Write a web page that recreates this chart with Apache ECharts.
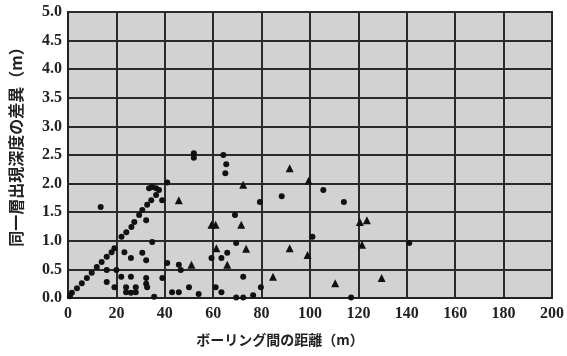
<!DOCTYPE html>
<html>
<head>
<meta charset="utf-8">
<script src="https://cdn.jsdelivr.net/npm/echarts@6/dist/echarts.min.js"></script>
<style>
html,body{margin:0;padding:0;background:#fff;}
#c{width:567px;height:356px;}
</style>
</head>
<body>
<div id="c"></div>
<script>
// x: ボーリング間の距離 (m), y: 同一層出現深度の差異 (m)
var xTicks = [0, 20, 40, 60, 80, 100, 120, 140, 160, 180, 200];
var yTicks = [0.0, 0.5, 1.0, 1.5, 2.0, 2.5, 3.0, 3.5, 4.0, 4.5, 5.0];

var circlePoints = [
  [0.8,0.03],[1.6,0.09],[3.7,0.17],[5.7,0.26],[7.8,0.35],[9.8,0.44],[11.9,0.54],[13.9,0.63],[16.0,0.72],[18.0,0.80],[19.2,0.87],
  [22.1,1.07],[24.1,1.15],[26.2,1.24],[27.4,1.33],[29.4,1.45],[30.7,1.54],[32.7,1.63],[34.4,1.71],[36.4,1.80],
  [33.5,1.92],[34.8,1.94],[36.4,1.92],[37.6,1.89],[38.9,1.71],[41.0,2.02],[32.3,1.36],
  [13.5,1.59],[34.8,0.98],
  [23.3,0.80],[26.0,0.70],[30.7,0.79],[32.3,0.66],[20.0,0.49],[16.0,0.49],[22.0,0.37],[26.0,0.37],[32.3,0.35],[32.3,0.25],
  [16.0,0.28],[19.2,0.19],[24.0,0.19],[28.0,0.19],[32.7,0.19],[24.0,0.10],[26.0,0.09],[28.0,0.10],[35.6,0.02],[39.0,0.35],
  [41.0,0.61],[45.8,0.58],[46.6,0.49],[43.0,0.10],[45.8,0.10],[50.0,0.19],
  [52.0,2.45],[52.0,2.53],[64.2,2.50],[65.4,2.34],[65.0,2.18],[69.0,1.45],[79.3,1.68],[69.5,0.96],
  [59.3,0.70],[63.4,0.70],[65.8,0.79],[72.4,0.37],[61.0,0.19],[63.4,0.10],[54.0,0.07],[76.5,0.05],
  [69.5,0.01],[72.4,0.01],[79.7,0.19],[88.3,1.78],[105.5,1.89],[114.0,1.68],[101.0,1.07],[141.0,0.96],[117.0,0.01]
];
var trianglePoints = [
  [45.8,1.71],[72.4,1.98],[59.3,1.28],[61.0,1.28],[71.6,1.28],[61.3,0.87],[73.6,0.86],[65.8,0.58],[51.0,0.58],
  [84.7,0.37],[91.6,2.27],[99.4,2.05],[91.6,0.87],[99.0,0.75],[120.6,1.33],[123.5,1.36],[121.5,0.93],[110.4,0.26],[129.6,0.35]
];

var chart = echarts.init(document.getElementById('c'), null, {renderer:'canvas'});
var labelFont = {color:'#222', fontFamily:'Liberation Serif', fontWeight:'bold', fontSize:16};
chart.setOption({
  animation:false,
  backgroundColor:'#ffffff',
  grid:{left:68, top:12, right:10, bottom:58, show:true, backgroundColor:'#d2d2d2', borderColor:'#222', borderWidth:2},
  xAxis:{
    type:'value', min:xTicks[0], max:xTicks[xTicks.length-1], interval:20,
    name:'ボーリング間の距離（m）', nameLocation:'middle', nameGap:35,
    nameTextStyle:{color:'#222', fontFamily:'Noto Sans CJK JP', fontWeight:'bold', fontSize:14, padding:[0,60,0,0]},
    axisLine:{show:true, lineStyle:{color:'#222', width:2}},
    axisTick:{show:false},
    axisLabel:Object.assign({margin:8}, labelFont),
    splitLine:{show:true, lineStyle:{color:'#2a2a2a', width:2}}
  },
  yAxis:{
    type:'value', min:yTicks[0], max:yTicks[yTicks.length-1], interval:0.5,
    name:'同一層出現深度の差異（m）', nameLocation:'middle', nameGap:44, nameRotate:90,
    nameTextStyle:{color:'#222', fontFamily:'Noto Sans CJK JP', fontWeight:'bold', fontSize:16, padding:[0,0,0,24]},
    axisLine:{show:true, lineStyle:{color:'#222', width:2}},
    axisTick:{show:false},
    axisLabel:Object.assign({margin:6, formatter:function(v){return v.toFixed(1);}}, labelFont),
    splitLine:{show:true, lineStyle:{color:'#2a2a2a', width:2}}
  },
  series:[
    {type:'scatter', data:circlePoints, symbol:'circle', symbolSize:6, itemStyle:{color:'#111', opacity:1}},
    {type:'scatter', data:trianglePoints, symbol:'triangle', symbolSize:8, itemStyle:{color:'#111', opacity:1}}
  ]
});
</script>
</body>
</html>
